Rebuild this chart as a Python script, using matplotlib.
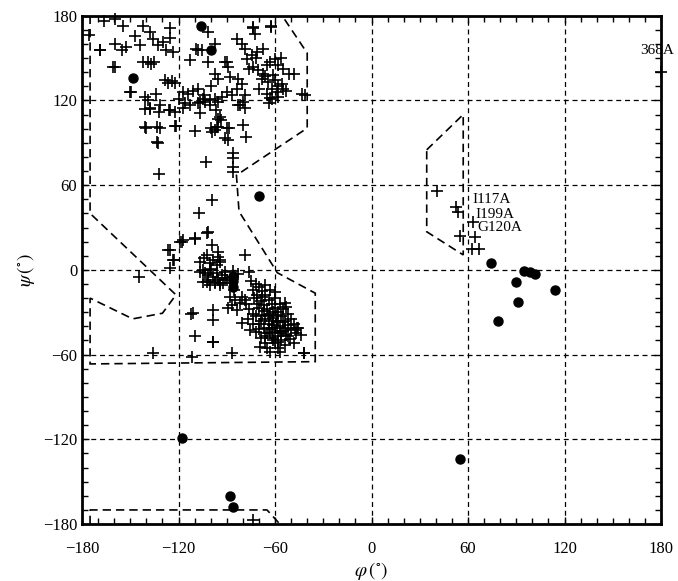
import matplotlib.pyplot as plt
from matplotlib.patches import Polygon

# residues shown as "+" (phi, psi in degrees)
beta_phi = [-175.7, -166.5, -159.7, -154.5, -168.6, -159.7, -155.0, -152.6, -147.2, -142.0,
            -138.0, -136.0, -144.0, -142.0, -139.0, -137.0, -135.0, -159.7, -132.7, -129.6,
            -125.0, -125.0, -127.6, -123.5, -113.0, -109.0, -128.6, -126.5, -124.0, -122.0,
            -117.0, -114.0, -111.0, -108.0, -149.3, -141.0, -139.0, -133.8, -141.0, -138.0,
            -132.0, -126.0, -122.0, -113.0, -108.0, -105.0, -101.4, -97.3, -73.4, -72.5,
            -62.4, -107.6, -105.5, -101.4, -90.0, -89.0, -83.8, -80.6, -78.6, -77.5,
            -74.4, -71.3, -67.2, -76.5, -73.4, -70.3, -67.2, -65.0, -63.0, -60.0,
            -57.9, -54.8, -51.6, -48.5, -68.2, -64.1, -59.9, -55.8, -62.0, -58.9,
            -65.1, -54.8, -62.0, -57.9, -43.3, -82.8, -80.6, -83.8, -86.9, -90.0,
            -93.1, -95.2, -97.3, -100.4, -103.5, -106.6, -78.6, -79.7, -82.8, -91.0,
            -88.0, -95.2, -97.3, -95.2, -140.0, -131.7, -121.3, -132.7, -109.9, -99.6,
            -97.5, -95.4, -88.7, -91.2, -79.8, -77.8, -94.3, -93.3, -102.7, -86.0,
            -86.0, -86.0, -86.0, -132.0, -138.0, -131.7, -125.4, -117.2, -106.8, -100.6,
            -96.5, -81.9, -78.8, -63.2, -41.3, -73.8, -62.6, -64.0, -160.5, -168.8,
            -150.2, -140.8, -133.6, -122.2, -133.6, -99.3, -96.2, -90.0, -89.0, -72.0,
            -66.0, -70.0, -58.0, -53.0, -61.0, -56.0, -116.0, -120.0, -104.0, -100.0]
beta_psi = [166.5, 176.0, 178.0, 172.7, 155.4, 160.0, 155.4, 158.0, 165.6, 173.0,
            168.4, 163.7, 159.0, 147.0, 147.0, 146.0, 147.0, 143.6, 159.0, 161.3,
            171.2, 164.0, 155.4, 154.4, 148.4, 156.6, 134.2, 132.0, 134.0, 132.5,
            126.0, 124.7, 126.4, 128.3, 126.0, 122.4, 120.0, 124.7, 114.0, 114.0,
            112.0, 113.0, 112.0, 117.0, 118.0, 121.0, 168.4, 160.0, 172.0, 167.0,
            172.0, 155.4, 155.4, 147.0, 147.2, 143.6, 163.7, 160.0, 156.6, 149.5,
            152.0, 154.2, 156.6, 142.4, 143.6, 141.3, 138.9, 144.8, 147.2, 149.5,
            144.8, 142.4, 138.9, 138.9, 135.4, 133.0, 134.2, 131.8, 128.3, 125.9,
            124.7, 128.3, 121.2, 122.4, 124.7, 135.4, 131.8, 128.3, 123.6, 126.0,
            122.4, 118.8, 121.2, 120.0, 118.8, 118.8, 123.6, 118.8, 116.5, 147.2,
            136.5, 135.4, 138.9, 107.0, 100.6, 100.6, 101.8, 89.6, 98.3, 100.2,
            99.0, 101.4, 100.2, 93.1, 102.5, 94.3, 108.4, 106.0, 76.6, 82.5,
            79.0, 73.0, 69.5, 67.6, 114.4, 116.7, 113.2, 114.4, 110.8, 116.7,
            113.2, 116.7, 114.4, 121.5, 123.8, 171.0, 172.7, 118.0, 143.8, 155.7,
            126.0, 101.3, 101.3, 101.8, 90.7, 97.8, 101.3, 100.2, 91.9, 150.0,
            137.0, 128.0, 130.0, 127.0, 138.0, 150.0, 118.0, 121.0, 124.0, 130.0]

alpha_phi = [-99.3, -107.0, -102.0, -109.7, -118.0, -117.0, -125.3, -122.8, -125.3, -106.6,
             -104.4, -100.4, -99.3, -95.2, -94.1, -96.2, -78.6, -76.5, -106.6, -103.5,
             -100.4, -96.2, -93.1, -91.0, -101.4, -104.5, -97.3, -94.1, -100.4, -90.0,
             -102.4, -98.3, -95.2, -94.1, -104.5, -101.4, -98.3, -95.2, -92.1, -102.4,
             -97.3, -94.1, -91.0, -86.0, -86.0, -85.5, -82.8, -87.9, -84.8, -86.9,
             -83.8, -89.0, -81.7, -78.6, -80.6, -98.3, -98.3, -98.3, -86.9, -80.6,
             -75.5, -69.3, -42.3, -53.7, -47.5, -46.4, -144.3, -135.7, -112.4, -111.1,
             -109.7, -98.7, -111.8, -126.3, -123.2, -119.0, -109.7, -101.4, -99.6, -73.7,
             -75.0, -72.0, -70.0, -74.0, -68.0, -71.0, -66.0, -73.0, -69.0, -64.0,
             -67.0, -62.0, -70.0, -65.0, -60.0, -63.0, -58.0, -68.0, -66.0, -61.0,
             -56.0, -64.0, -59.0, -54.0, -62.0, -57.0, -52.0, -60.0, -55.0, -50.0,
             -58.0, -53.0, -62.0, -56.0, -60.0, -54.0, -58.0, -65.0, -67.0, -70.0,
             -72.0, -76.0, -78.0, -60.0, -57.0, -55.0, -52.0, -50.0, -48.0, -46.0,
             -47.0, -51.0, -63.0, -66.0, -60.0, -63.0, -57.0, -69.0, -66.0, -72.0,
             -74.0, -70.0, -53.0, -58.0, -61.0, -64.0, -67.0, -59.0, -56.0, -63.0,
             -61.0, -65.0, -71.0, -68.0, -74.0, -77.0, -44.0, -48.0, -42.0, -59.0,
             -55.0, -62.0, -57.0, -64.0, -52.0, -66.0, -61.0, -54.0, -69.0, -58.0]
alpha_psi = [49.4, 40.5, 26.3, 21.6, 20.0, 21.0, 14.0, 7.0, 1.0, 5.7,
             8.1, 4.6, 17.6, 12.8, 6.9, 3.4, 10.5, -1.3, -1.3, -2.5,
             -0.1, -2.5, -3.7, -1.3, -7.2, -8.4, -8.4, -9.6, -10.8, -7.2,
             10.5, 7.0, 9.3, 5.7, -0.1, -3.7, -4.9, -7.2, -9.6, -8.4,
             -9.6, -10.8, -6.0, -1.0, -5.0, -14.0, -3.0, -19.0, -21.4, -25.0,
             -28.4, -27.3, -23.7, -21.4, -19.0, -28.5, -35.5, -51.0, -59.1, -37.9,
             -42.6, -54.5, -59.1, -23.7, -42.6, -41.5, -5.3, -59.0, -31.5, -30.8,
             -46.7, -51.3, -61.5, 14.0, 7.0, 19.9, 22.3, 27.0, 0.5, -177.0,
             -8.0, -10.0, -12.0, -14.0, -15.0, -18.0, -18.0, -20.0, -22.0, -21.0,
             -25.0, -24.0, -27.0, -28.0, -27.0, -31.0, -30.0, -32.0, -35.0, -34.0,
             -33.0, -38.0, -37.0, -36.0, -41.0, -40.0, -39.0, -44.0, -43.0, -42.0,
             -47.0, -46.0, -48.0, -50.0, -52.0, -53.0, -55.0, -45.0, -41.0, -38.0,
             -33.0, -28.0, -24.0, -20.0, -24.0, -28.0, -31.0, -35.0, -38.0, -41.0,
             -45.0, -49.0, -14.0, -11.0, -16.0, -58.0, -58.0, -48.0, -52.0, -44.0,
             -38.0, -42.0, -26.0, -36.0, -30.0, -33.0, -29.0, -41.0, -45.0, -45.0,
             -50.0, -55.0, -24.0, -19.0, -31.0, -35.0, -46.0, -52.0, -59.0, -32.0,
             -37.0, -36.0, -43.0, -42.0, -47.0, -47.0, -39.0, -41.0, -36.0, -51.0]

left_phi = [41.0, 52.7, 54.0, 54.8, 63.0, 64.5, 62.5, 67.0, 180.0]
left_psi = [55.8, 44.5, 41.0, 24.2, 34.0, 23.5, 14.5, 14.5, 140.0]

# residues shown as filled circles
circ_phi = [-148.3, -106.2, -100.0, -70.0, -86.0, -86.0, -86.0, -118.0, -88.0, -86.0,
            55.0, 74.5, 94.6, 98.8, 101.9, 90.0, 114.3, 91.0, 78.4]
circ_psi = [135.8, 172.7, 156.0, 52.5, -4.0, -8.0, -12.0, -119.0, -160.0, -168.0,
            -134.0, 5.0, -0.9, -1.5, -3.2, -8.6, -14.3, -23.0, -36.3]

# allowed-region outlines
core_phi = [-175, -175, -121.6, -130, -148.5, -175, -175, -35, -35, -58.6, -82.4, -84, -40, -40, -55.6]
core_psi = [180, 40, -17.7, -30.7, -34.7, -20, -66.6, -65, -16.5, -2, 41.4, 67, 100.4, 153.5, 180]
bottom_phi = [-175, -175, -65, -57]
bottom_psi = [-180, -170, -170, -180]
lh_phi = [34.3, 57, 57, 34.3]
lh_psi = [85, 110, 10.6, 27]

labels = ["I117A", "I199A", "G120A"]
label_pos = [(63, 50), (64.5, 39.5), (65.6, 30)]

plt.rcParams['font.family'] = ['Liberation Serif', 'DejaVu Serif']
plt.rcParams['mathtext.fontset'] = 'stix'

fig = plt.figure(figsize=(6.78, 5.81), dpi=100)
ax = fig.add_axes([0.121, 0.098, 0.854, 0.875])

for v in [-120, -60, 0, 60, 120]:
    ax.axvline(v, color='black', lw=0.9, ls=(0, (4, 3)), zorder=1)
    ax.axhline(v, color='black', lw=0.9, ls=(0, (4, 3)), zorder=1)

ax.add_patch(Polygon(list(zip(core_phi, core_psi)), closed=False, fill=False,
                     ec='black', lw=1.2, ls=(0, (5, 3)), zorder=2))
ax.plot(bottom_phi, bottom_psi, color='black', lw=1.2, ls=(0, (5, 3)), zorder=2)
ax.add_patch(Polygon(list(zip(lh_phi, lh_psi)), closed=True, fill=False,
                     ec='black', lw=1.2, ls=(0, (5, 3)), zorder=2))

ax.plot(beta_phi + alpha_phi + left_phi, beta_psi + alpha_psi + left_psi, '+',
        color='black', ms=9, mew=1.2, zorder=3, clip_on=False)
ax.plot(circ_phi, circ_psi, 'o', color='black', ms=6.5, zorder=4)

for txt, (x, y) in zip(labels, label_pos):
    ax.text(x, y, txt, fontsize=11, ha='left', va='center')
ax.text(167, 155, "368A", fontsize=11, ha='left', va='center', clip_on=False)

ax.set_xlim(-180, 180)
ax.set_ylim(-180, 180)
ax.set_xticks(range(-180, 181, 60))
ax.set_yticks(range(-180, 181, 60))
ax.set_xticks(range(-180, 181, 10), minor=True)
ax.set_yticks(range(-180, 181, 10), minor=True)
ax.set_xticklabels(['\u2212180', '\u2212120', '\u221260', '0', '60', '120', '180'])
ax.set_yticklabels(['\u2212180', '\u2212120', '\u221260', '0', '60', '120', '180'])
ax.tick_params(which='both', direction='in', top=True, right=True, labelsize=12)
ax.tick_params(which='major', length=5, width=1)
ax.tick_params(which='minor', length=4, width=1)
ax.tick_params(axis='x', which='major', pad=12)
for s in ax.spines.values():
    s.set_linewidth(2)

ax.set_xlabel(r'$\varphi\,(^{\circ})$', fontsize=14, labelpad=2)
ax.set_ylabel(r'$\psi\,(^{\circ})$', fontsize=14, labelpad=4)

fig.savefig('out.png', dpi=100)
